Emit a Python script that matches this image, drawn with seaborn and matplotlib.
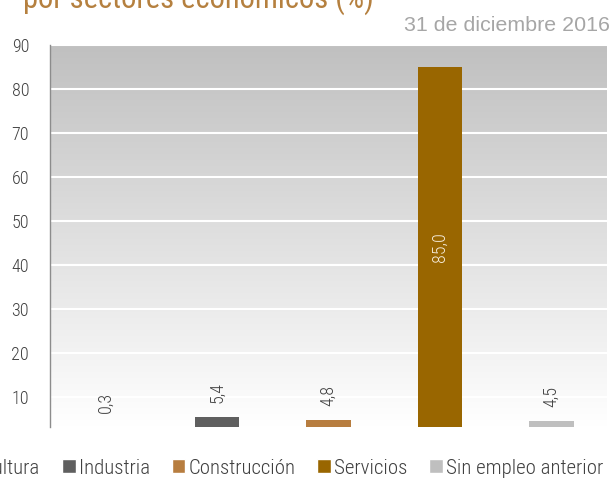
import numpy as np
import pandas as pd
import matplotlib.pyplot as plt
from matplotlib.colors import LinearSegmentedColormap
from matplotlib.patches import Patch
import seaborn as sns

# data
sectores = ["Agricultura", "Industria", "Construcción", "Servicios", "Sin empleo anterior"]
valores = [0.3, 5.4, 4.8, 85.0, 4.5]
etiquetas = ["0,3", "5,4", "4,8", "85,0", "4,5"]
colores = ["#8c6b3f", "#5f5f5f", "#b77d3f", "#996600", "#bfbfbf"]
yticks = [10, 20, 30, 40, 50, 60, 70, 80, 90]
titulo = "por sectores económicos (%)"
fecha = "31 de diciembre 2016"

sns.set_style("white")
plt.rcParams["font.family"] = ["Roboto Condensed", "DejaVu Sans"]
plt.rcParams["font.weight"] = 300

df = pd.DataFrame({"Sector": sectores, "Valor": valores})

fig = plt.figure(figsize=(6.15, 4.8), dpi=100)
ax = fig.add_axes([50 / 615, 1 - 427 / 480, 557 / 615, 382 / 480])

y_min, y_max = 3.1, 90

# gradient background (grey at top to white at bottom)
grad = np.linspace(0, 1, 256).reshape(-1, 1)
cmap = LinearSegmentedColormap.from_list("fondo", ["#ffffff", "#c0c0c0"])
ax.imshow(grad, cmap=cmap, extent=[-0.5, 4.5, y_min, y_max], origin="lower",
          aspect="auto", zorder=0)

sns.barplot(data=df, x="Sector", y="Valor", hue="Sector", palette=colores,
            width=0.4, saturation=1, linewidth=0, legend=False, ax=ax, zorder=2)

ax.set_xlim(-0.5, 4.5)
ax.set_ylim(y_min, y_max)
ax.set_yticks(yticks)
ax.set_xticks([])
ax.set_xlabel("")
ax.set_ylabel("")
ax.set_axisbelow(True)
ax.yaxis.grid(True, color="white", linewidth=1.5)

for s in ["top", "right", "bottom"]:
    ax.spines[s].set_visible(False)
ax.spines["left"].set_color("#8c8c8c")
ax.spines["left"].set_linewidth(1)
ax.tick_params(axis="y", length=3, color="#8c8c8c", width=1,
               labelsize=13, labelcolor="#404040", pad=12)

# value labels
for i, (v, t) in enumerate(zip(valores, etiquetas)):
    if v > 50:
        ax.text(i, (y_min + v) / 2, t, rotation=90, ha="center", va="center",
                color="#f5ead8", fontsize=13, zorder=3)
    else:
        ax.annotate(t, (i, max(v, y_min)), xytext=(0, 10), textcoords="offset points",
                    rotation=90, ha="center", va="bottom", color="#404040",
                    fontsize=13, zorder=3)

fig.text(23 / 615, 1 - 8 / 480, titulo, fontsize=22, color="#b5803f",
         ha="left", va="baseline", weight="normal")
fig.text(610 / 615, 1 - 31 / 480, fecha, fontsize=15.4, color="#a6a6a6",
         ha="right", va="baseline", family=["Liberation Sans", "DejaVu Sans"],
         weight="normal")

handles = [Patch(facecolor=c, label=s) for s, c in zip(sectores, colores)]
fig.legend(handles=handles, loc="center right", bbox_to_anchor=(603 / 615, 1 - 468 / 480),
           ncol=5, frameon=False, fontsize=15, handlelength=0.65, handleheight=0.65,
           handletextpad=0.15, columnspacing=1.05, labelcolor="#404040",
           borderpad=0, borderaxespad=0)

fig.savefig("out.png", dpi=100)
